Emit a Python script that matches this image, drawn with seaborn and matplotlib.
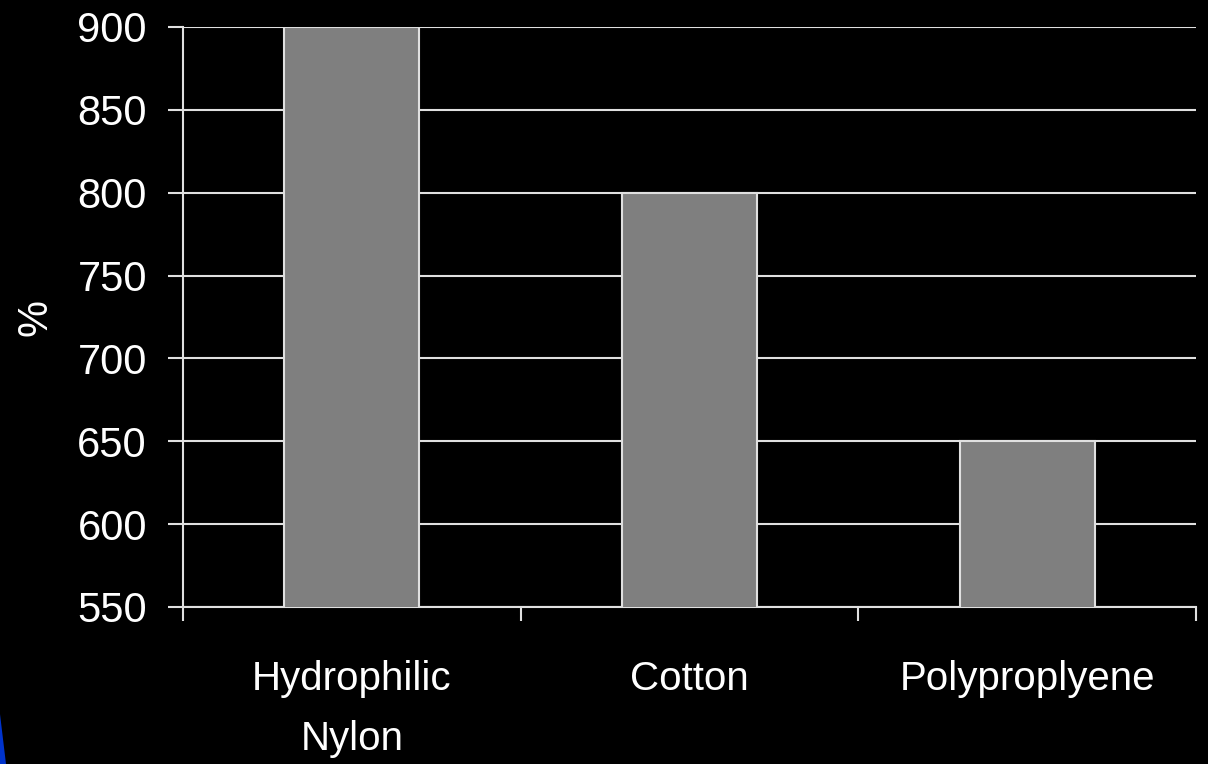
import matplotlib
matplotlib.use("Agg")
import matplotlib.pyplot as plt
import seaborn as sns
import pandas as pd
from matplotlib.patches import Polygon

categories = ["Hydrophilic\nNylon", "Cotton", "Polyproplyene"]
values = [900, 800, 650]
yticks = [550, 600, 650, 700, 750, 800, 850, 900]

sns.set_theme(style="dark")
plt.rcParams["font.family"] = ["Liberation Sans", "DejaVu Sans"]

df = pd.DataFrame({"cat": categories, "val": values})

fig = plt.figure(figsize=(12.08, 7.64), dpi=100, facecolor="black")
ax = fig.add_axes([183/1208, 1-607/764, (1196-183)/1208, (607-27)/764])
ax.set_facecolor("black")

sns.barplot(data=df, x="cat", y="val", color="#7f7f7f", saturation=1,
            width=0.4, edgecolor="#e0e0e0", linewidth=1.5, ax=ax, zorder=3)
ax.set_ylim(550, 900)
ax.set_xlim(-0.5, 2.5)
ax.set_yticks(yticks)
ax.yaxis.grid(True, color="#e0e0e0", linewidth=1.5, zorder=0)
ax.xaxis.grid(False)
for s in ["top", "right"]:
    ax.spines[s].set_visible(False)
for s in ["left", "bottom"]:
    ax.spines[s].set_visible(True)
    ax.spines[s].set_color("#e0e0e0")
    ax.spines[s].set_linewidth(1.5)
ax.set_xticks([0, 1, 2])
ax.set_xticklabels(categories)
ax.tick_params(axis="x", length=0, pad=38, labelsize=29, colors="white")
ax.tick_params(axis="y", length=11, width=1.5, color="#e0e0e0", pad=15,
               labelsize=30, labelcolor="white", left=True)
for lab in ax.get_xticklabels():
    lab.set_linespacing(1.75)
ax.set_xticks([-0.5, 0.5, 1.5, 2.5], minor=True)
ax.tick_params(axis="x", which="minor", length=10, width=1.5, color="#e0e0e0", bottom=True)
ax.set_xlabel("")
ax.set_ylabel("%", color="white", fontsize=30)
ax.yaxis.set_label_coords((56 - 183) / 1013, 0.5)

fig.patches.append(Polygon([[0, 0], [6/1208, 0], [0, 50/764]], closed=True,
                           transform=fig.transFigure, facecolor="#0033cc", edgecolor="none"))

fig.savefig("out.png", dpi=100, facecolor="black")
